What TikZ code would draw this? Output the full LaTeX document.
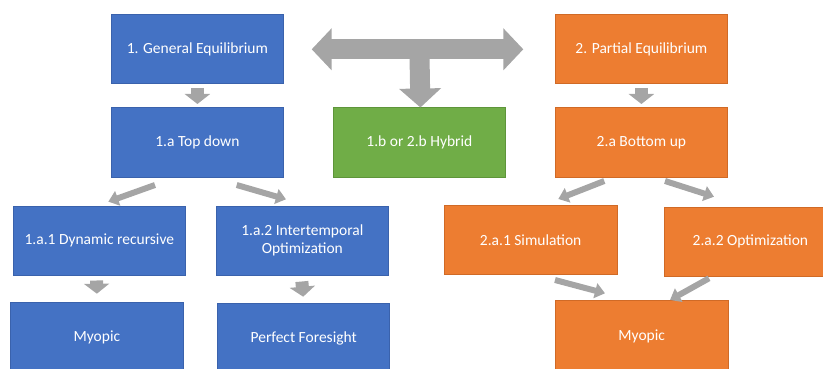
\documentclass[tikz,border=0pt]{standalone}
\usepackage{fontspec}
\setmainfont{Carlito}
\usetikzlibrary{arrows.meta,calc}
\definecolor{cblue}{HTML}{4472C4}
\definecolor{cblueb}{HTML}{3A62AC}
\definecolor{corange}{HTML}{ED7D31}
\definecolor{corangeb}{HTML}{D06A26}
\definecolor{cgreen}{HTML}{70AD47}
\definecolor{cgreenb}{HTML}{5E953A}
\definecolor{cgray}{HTML}{A5A5A5}
\begin{document}
\begin{tikzpicture}[x=1pt,y=-1pt,
  box/.style={rectangle, anchor=north west, inner sep=0pt, line width=0.8pt,
    text=white, font=\fontsize{15.5}{18.5}\selectfont, align=center},
  bluebox/.style={box, fill=cblue, draw=cblueb},
  orangebox/.style={box, fill=corange, draw=corangeb},
  greenbox/.style={box, fill=cgreen, draw=cgreenb},
  downarr/.style={draw=cgray, line width=13pt, -{Triangle[width=25pt,length=10pt]}},
  diagarr/.style={draw=cgray, line width=6pt, -{Triangle[width=15pt,length=10pt]}},
  bigarr/.style={draw=cgray, line width=20pt}
]
\useasboundingbox (0,0) rectangle (823,369);
% row 1
\node[bluebox, minimum width=172pt, minimum height=69pt] (ge) at (111,14) {1. General Equilibrium};
\node[orangebox, minimum width=172pt, minimum height=69pt] (pe) at (555,14) {2. Partial Equilibrium};
% row 2
\node[bluebox, minimum width=172pt, minimum height=69pt] (td) at (111,107.5) {1.a Top down};
\node[greenbox, minimum width=172pt, minimum height=69pt] (hy) at (333,107.5) {1.b or 2.b Hybrid};
\node[orangebox, minimum width=172pt, minimum height=69pt] (bu) at (555,107.5) {2.a Bottom up};
% row 3
\node[bluebox, minimum width=172.5pt, minimum height=69pt] (dr) at (12.7,205.7) {1.a.1 Dynamic recursive};
\node[bluebox, minimum width=172.5pt, minimum height=69pt] (io) at (215.7,205.7) {1.a.2 Intertemporal\\Optimization};
\node[orangebox, minimum width=172.5pt, minimum height=69pt] (si) at (444,205) {2.a.1 Simulation};
\node[orangebox, minimum width=172pt, minimum height=69pt] (op) at (664,206.7) {2.a.2 Optimization};
% row 4
\node[bluebox, minimum width=172.5pt, minimum height=70pt] (my1) at (10.2,301.7) {Myopic};
\node[bluebox, minimum width=172pt, minimum height=70pt] (pf) at (217.3,302.7) {Perfect Foresight};
\node[orangebox, minimum width=172.5pt, minimum height=72pt] (my2) at (555,300) {Myopic};

% big T arrow
\coordinate (tl) at (311.7,49.3);
\coordinate (tr) at (523.3,49.3);
\coordinate (tc) at (hy.north |- tl);
\path[bigarr, {Triangle[width=41pt,length=20pt]}-{Triangle[width=41pt,length=20pt]}] (tl) -- (tr);
\path[bigarr, -{Triangle[width=41pt,length=19pt]}] (tc) -- ($(hy.north)+(1,0)$);

% vertical small arrows
\path[downarr] ($(ge.south)+(0,4)$) -- ($(td.north)+(0,-3.5)$);
\path[downarr] ($(pe.south)+(0,4)$) -- ($(bu.north)+(0,-3.5)$);
\path[downarr] ($(dr.south)+(-2.7,5)$) -- ($(my1.north)+(0,-8)$);
\path[downarr] ($(io.south)+(-0.5,6)$) -- ($(pf.north)+(-0.5,-6)$);

% diagonal arrows
\coordinate (a1s) at (155,185); \coordinate (a1e) at (108.3,201.7);
\coordinate (a2s) at (236.7,185); \coordinate (a2e) at (286,199.3);
\coordinate (b1s) at (604.3,181); \coordinate (b1e) at (558.3,199);
\coordinate (b2s) at (665,181); \coordinate (b2e) at (714,196.7);
\coordinate (c1s) at (555,280); \coordinate (c1e) at (605,293.3);
\coordinate (c2s) at (709,278.3); \coordinate (c2e) at (670,300);
\path[diagarr] (a1s) -- (a1e);
\path[diagarr] (a2s) -- (a2e);
\path[diagarr] (b1s) -- (b1e);
\path[diagarr] (b2s) -- (b2e);
\path[diagarr] (c1s) -- (c1e);
\path[diagarr] (c2s) -- (c2e);
\end{tikzpicture}
\end{document}
